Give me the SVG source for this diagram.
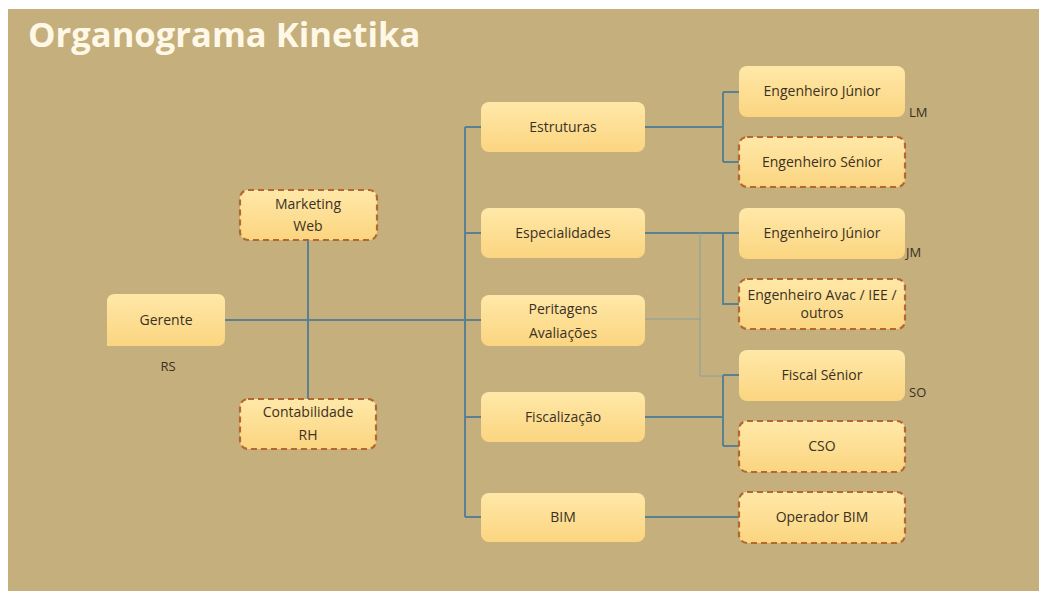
<svg xmlns="http://www.w3.org/2000/svg" width="1039" height="591" viewBox="0 0 1039 591">
<defs>
<linearGradient id="g" x1="0" y1="0" x2="0" y2="1">
<stop offset="0" stop-color="#FFE8A8"/>
<stop offset="1" stop-color="#FBD580"/>
</linearGradient>
<style>
.box{fill:url(#g);}
.dash{fill:url(#g);stroke:#B4672E;stroke-width:2.2;stroke-dasharray:6 4;}
.t{font-family:"Open Sans","Noto Sans",sans-serif;font-size:14px;fill:#3B3123;text-anchor:middle;}
.lbl{font-family:"Open Sans","Noto Sans",sans-serif;font-size:13px;fill:#3A3020;}
.c{stroke:#5A8192;stroke-width:2;fill:none;}
.thin{stroke:#8AA0A0;stroke-width:1;fill:none;}
</style>
</defs>
<rect x="0" y="0" width="1039" height="591" fill="#FFFFFF"/>
<rect x="8" y="9" width="1031" height="582" fill="#C4AF7D"/>
<text x="28" y="47" font-family="'Open Sans','Noto Sans',sans-serif" font-size="34.6" font-weight="bold" fill="#FFF8E6">Organograma Kinetika</text>

<g id="connectors">
<path class="c" d="M225 320 H481"/>
<path class="c" d="M308 240 V399"/>
<path class="c" d="M465 127 V517 M465 127 H481 M465 233 H481 M465 417 H481 M465 517 H481"/>
<path class="c" d="M645 127 H723 M723 92 V162 M723 92 H739 M723 162 H739"/>
<path class="c" d="M645 233 H739 M723 233 V304 H739"/>
<path class="thin" d="M645 319 H700 M700 233 V376 H723"/>
<path class="c" d="M645 417 H723 M723 375 V446 M723 375 H739 M723 446 H739"/>
<path class="c" d="M645 517 H739"/>
</g>

<g id="gerente">
<path class="box" d="M115 294 H217 Q225 294 225 302 V338 Q225 346 217 346 H107 V302 Q107 294 115 294 Z"/>
<text class="t" x="166" y="325">Gerente</text>
<text class="lbl" x="168" y="371" text-anchor="middle">RS</text>
</g>
<g id="marketing">
<rect class="dash" x="240" y="190" width="137" height="50" rx="8"/>
<text class="t" x="308" y="209">Marketing</text>
<text class="t" x="308" y="231">Web</text>
</g>
<g id="contabilidade">
<rect class="dash" x="240" y="399" width="136" height="50" rx="8"/>
<text class="t" x="308" y="417">Contabilidade</text>
<text class="t" x="308" y="440">RH</text>
</g>

<g id="estruturas">
<rect class="box" x="481" y="102" width="164" height="50" rx="8"/>
<text class="t" x="563" y="132">Estruturas</text>
</g>
<g id="especialidades">
<rect class="box" x="481" y="208" width="164" height="50" rx="8"/>
<text class="t" x="563" y="238">Especialidades</text>
</g>
<g id="peritagens">
<rect class="box" x="481" y="295" width="164" height="51" rx="8"/>
<text class="t" x="563" y="314">Peritagens</text>
<text class="t" x="563" y="338">Avaliações</text>
</g>
<g id="fiscalizacao">
<rect class="box" x="481" y="392" width="164" height="50" rx="8"/>
<text class="t" x="563" y="422">Fiscalização</text>
</g>
<g id="bim">
<rect class="box" x="481" y="493" width="164" height="49" rx="8"/>
<text class="t" x="563" y="522">BIM</text>
</g>

<g id="eng-junior-lm">
<rect class="box" x="739" y="66" width="166" height="51" rx="8"/>
<text class="t" x="822" y="96">Engenheiro Júnior</text>
<text class="lbl" x="909" y="117">LM</text>
</g>
<g id="eng-senior">
<rect class="dash" x="739" y="137" width="166" height="50" rx="8"/>
<text class="t" x="822" y="167">Engenheiro Sénior</text>
</g>
<g id="eng-junior-jm">
<rect class="box" x="739" y="208" width="166" height="51" rx="8"/>
<text class="t" x="822" y="238">Engenheiro Júnior</text>
<text class="lbl" x="906" y="257">JM</text>
</g>
<g id="eng-avac">
<rect class="dash" x="739" y="279" width="166" height="50" rx="8"/>
<text class="t" x="822" y="300">Engenheiro Avac / IEE /</text>
<text class="t" x="822" y="318">outros</text>
</g>
<g id="fiscal-senior">
<rect class="box" x="739" y="350" width="166" height="51" rx="8"/>
<text class="t" x="822" y="380">Fiscal Sénior</text>
<text class="lbl" x="909" y="397">SO</text>
</g>
<g id="cso">
<rect class="dash" x="739" y="421" width="166" height="51" rx="8"/>
<text class="t" x="822" y="451">CSO</text>
</g>
<g id="operador-bim">
<rect class="dash" x="739" y="492" width="166" height="51" rx="8"/>
<text class="t" x="822" y="522">Operador BIM</text>
</g>
</svg>
